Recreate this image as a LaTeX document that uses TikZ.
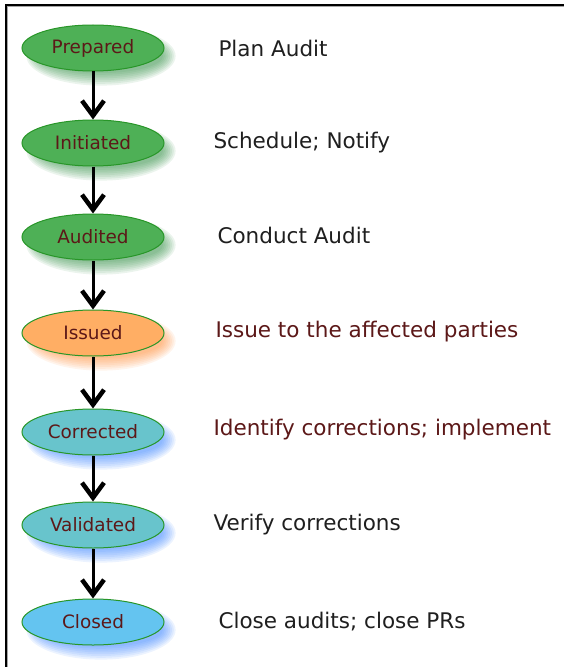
\documentclass[tikz,border=0pt]{standalone}
\usepackage{fontspec}
\setmainfont{DejaVu Sans}
\usetikzlibrary{shapes.geometric,arrows.meta}
\definecolor{stgreen}{RGB}{78,176,86}
\definecolor{storange}{RGB}{255,174,100}
\definecolor{stteal}{RGB}{104,196,204}
\definecolor{stblue}{RGB}{100,196,240}
\definecolor{edgegreen}{RGB}{40,150,40}
\definecolor{txtmaroon}{RGB}{92,24,24}
\definecolor{shgreen}{RGB}{40,140,60}
\definecolor{shorange}{RGB}{255,140,50}
\definecolor{shblue}{RGB}{50,130,255}
\tikzset{
  state/.style={ellipse, draw=edgegreen, line width=1bp, minimum width=142bp,
    minimum height=46bp, inner sep=0pt, font=\fontsize{18.5}{22}\selectfont, text=txtmaroon},
  lab/.style={anchor=west, font=\fontsize{21.6}{26}\selectfont, text=black!88},
  labred/.style={lab, text=txtmaroon},
  flow/.style={line width=3bp, black, -{Straight Barb[length=15bp,width=22bp,line width=4.5bp]}}
}
\newcommand{\softshadow}[3]{%
  \foreach \i in {0,...,7}{
    \fill[#3, opacity=0.09] (#1+8,#2+8) ellipse ({62+1.8*\i} and {17+1.8*\i});
  }}
\begin{document}
\begin{tikzpicture}[x=1bp,y=-1bp]
\useasboundingbox (0,0) rectangle (564,667);
\fill[white] (0,0) rectangle (564,667);
% frame
\draw[line width=1.5bp, black] (6,667) -- (6,5) -- (564,5);
\draw[line width=1bp, black!35] (7.5,667) -- (7.5,6.5) -- (564,6.5);
% shadows
\softshadow{93}{48}{shgreen}
\softshadow{93}{143}{shgreen}
\softshadow{93}{237}{shgreen}
\softshadow{93}{333}{shorange}
\softshadow{93}{432}{shblue}
\softshadow{93}{525}{shblue}
\softshadow{93}{622}{shblue}
% states
\node[state, fill=stgreen]  (prep) at (93,48)  {Prepared};
\node[state, fill=stgreen]  (init) at (93,143) {Initiated};
\node[state, fill=stgreen]  (aud)  at (93,237) {Audited};
\node[state, fill=storange] (iss)  at (93,333) {Issued};
\node[state, fill=stteal]   (corr) at (93,432) {Corrected};
\node[state, fill=stteal]   (val)  at (93,525) {Validated};
\node[state, fill=stblue]   (clo)  at (93,622) {Closed};
% arrows
\draw[flow] (prep.south) -- (init.north);
\draw[flow] (init.south) -- (aud.north);
\draw[flow] (aud.south) -- (iss.north);
\draw[flow] (iss.south) -- (corr.north);
\draw[flow] (corr.south) -- (val.north);
\draw[flow] (val.south) -- (clo.north);
% labels
\node[lab]    (l1) at (215,48)  {Plan Audit};
\node[lab]    (l2) at (210,143) {Schedule; Notify};
\node[lab]    (l3) at (214,235) {Conduct Audit};
\node[labred] (l4) at (212,332) {Issue to the affected parties};
\node[labred] (l5) at (210,430) {Identify corrections; implement};
\node[lab]    (l6) at (210,525) {Verify corrections};
\node[lab]    (l7) at (215,622) {Close audits; close PRs};
\end{tikzpicture}
\end{document}
